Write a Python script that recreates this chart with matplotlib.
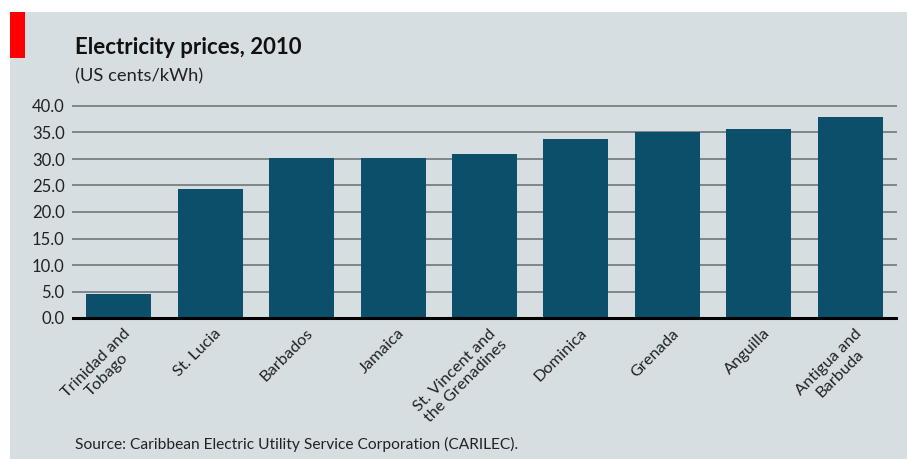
import matplotlib
matplotlib.use('Agg')
import matplotlib.pyplot as plt
import matplotlib.transforms as mtransforms
from matplotlib.patches import Rectangle

countries = ['Trinidad and\nTobago', 'St. Lucia', 'Barbados', 'Jamaica',
             'St. Vincent and\nthe Grenadines', 'Dominica', 'Grenada',
             'Anguilla', 'Antigua and\nBarbuda']
prices = [4.5, 24.3, 30.2, 30.2, 30.9, 33.7, 35.0, 35.6, 37.9]
yticks = [0, 5, 10, 15, 20, 25, 30, 35, 40]

bg = '#d6dee1'
bar_col = '#0b4f6a'
plt.rcParams['font.family'] = ['Lato', 'DejaVu Sans']

W, H = 907, 459
fig = plt.figure(figsize=(W / 100, H / 100), dpi=100, facecolor='white')

# grey panel and the red tab
fig.patches.append(Rectangle((10 / W, 0), 1 - 10 / W, 1 - 12 / H,
                             transform=fig.transFigure, facecolor=bg,
                             edgecolor='none', zorder=-10))
fig.patches.append(Rectangle((10 / W, 1 - 58 / H), 15 / W, 46 / H,
                             transform=fig.transFigure, facecolor='#ff0000',
                             edgecolor='none', zorder=-9))

ax = fig.add_axes([73 / W, 1 - 318 / H, (896 - 73) / W, (318 - 106) / H])
ax.set_facecolor('none')

x = range(len(countries))
ax.bar(x, prices, width=0.71, color=bar_col, zorder=3)

ax.set_xlim(-0.5, len(countries) - 0.5)
ax.set_ylim(0, 40)
ax.set_yticks(yticks)
ax.set_yticklabels([f'{v:.1f}' for v in yticks], fontsize=12, color='#222222')
for v in yticks[1:]:
    ax.axhline(v, color='#7f8688', lw=1.4, zorder=1, clip_on=False)
ax.axhline(0, color='black', lw=2.2, zorder=4, clip_on=False)

ax.set_xticks(list(x))
ax.set_xticklabels(countries, rotation=45, ha='right', rotation_mode='anchor',
                   multialignment='center', fontsize=11.8, color='#222222')
ax.tick_params(axis='both', length=0)
ax.tick_params(axis='y', pad=6)
ax.tick_params(axis='x', pad=6)
shift = mtransforms.ScaledTranslation(4 / 100, 0, fig.dpi_scale_trans)
for lab in ax.get_xticklabels():
    lab.set_transform(lab.get_transform() + shift)
for s in ax.spines.values():
    s.set_visible(False)

fig.text(75 / W, 1 - 48 / H, 'Electricity prices, 2010', fontsize=16,
         fontweight='bold', va='center', ha='left', color='#111111')
fig.text(75 / W, 1 - 76 / H, '(US cents/kWh)', fontsize=13.2,
         va='center', ha='left', color='#222222')
fig.text(75 / W, 1 - 444 / H,
         'Source: Caribbean Electric Utility Service Corporation (CARILEC).',
         fontsize=11.2, va='center', ha='left', color='#222222')

fig.savefig('out.png', dpi=100, facecolor='white')
